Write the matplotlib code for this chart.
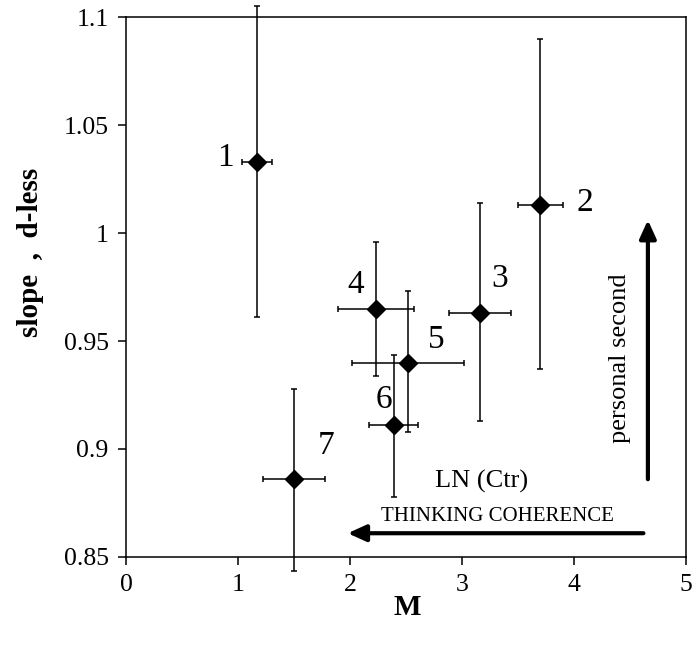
import numpy as np
import matplotlib
matplotlib.use('Agg')
import matplotlib.pyplot as plt
from matplotlib.ticker import FuncFormatter

# points: M (x), slope (y), errors
labels = ['1', '2', '3', '4', '5', '6', '7']
m_vals = [1.17, 3.70, 3.16, 2.23, 2.52, 2.39, 1.50]
slope = [1.033, 1.013, 0.963, 0.965, 0.940, 0.911, 0.886]
x_err = [0.13, 0.20, 0.28, 0.34, 0.50, 0.22, 0.28]
y_hi = [1.105, 1.090, 1.014, 0.996, 0.973, 0.9435, 0.928]
y_lo = [0.961, 0.937, 0.913, 0.934, 0.908, 0.878, 0.8435]

# label positions next to each point
lab_x = [0.89, 4.10, 3.34, 2.05, 2.77, 2.30, 1.79]
lab_y = [1.035, 1.0138, 0.979, 0.976, 0.9505, 0.923, 0.9015]

plt.rcParams['font.family'] = ['Liberation Serif', 'DejaVu Serif']

fig = plt.figure(figsize=(6.96, 6.5), dpi=100)
ax = fig.add_axes([0.181, 0.1431, 0.8046, 0.8307])

slope = np.array(slope)
yerr = [slope - np.array(y_lo), np.array(y_hi) - slope]
eb = ax.errorbar(m_vals, slope, xerr=x_err, yerr=yerr, fmt='D', color='black',
                 ms=9, elinewidth=1.1, capsize=2.5, capthick=1.1, zorder=3)
for art in eb.lines[1] + eb.lines[2]:
    art.set_clip_on(False)
eb.lines[0].set_clip_on(False)

for lab, lx, ly in zip(labels, lab_x, lab_y):
    ax.text(lx, ly, lab, fontsize=24, ha='center', va='center')

# annotations
ax.text(3.175, 0.8848, 'LN (Ctr)', fontsize=19, ha='center', va='center')
ax.text(3.32, 0.8687, 'THINKING COHERENCE', fontsize=15, ha='center', va='center')
ax.annotate('', xy=(1.98, 0.861), xytext=(4.62, 0.861),
            arrowprops=dict(arrowstyle='-|>,head_length=1.1,head_width=0.5',
                            lw=3, color='black', shrinkA=0, shrinkB=0))
ax.annotate('', xy=(4.66, 1.006), xytext=(4.66, 0.886),
            arrowprops=dict(arrowstyle='-|>,head_length=1.1,head_width=0.5',
                            lw=3, color='black', shrinkA=0, shrinkB=0))
ax.text(4.41, 0.942, 'personal second', fontsize=19, rotation=90,
        ha='center', va='center')

ax.set_xlim(0, 5)
ax.set_ylim(0.85, 1.1)
ax.set_xticks([0, 1, 2, 3, 4, 5])
ax.set_yticks([0.85, 0.9, 0.95, 1.0, 1.05, 1.1])
ax.yaxis.set_major_formatter(FuncFormatter(lambda v, p: f'{v:g}'))
ax.tick_params(direction='out', length=5.5, width=1.1, pad=7, labelsize=18.5)
for s in ax.spines.values():
    s.set_linewidth(1.1)

ax.set_xlabel('M', fontsize=21, fontweight='bold')
ax.set_ylabel('slope  ,  d-less', fontsize=21, fontweight='bold')
ax.xaxis.set_label_coords(0.502, -0.068)
ax.yaxis.set_label_coords(-0.146, 0.565)

fig.savefig('out.png', dpi=100)
